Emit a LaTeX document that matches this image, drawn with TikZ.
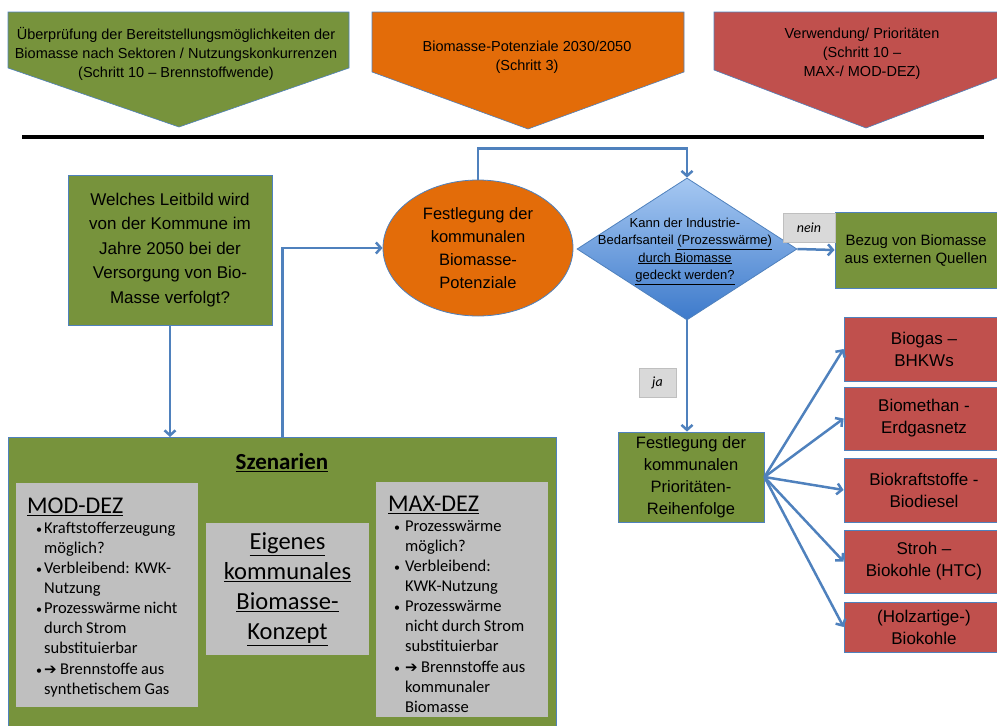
\documentclass[tikz,border=0pt]{standalone}
\usepackage{fontspec}
\setmainfont{Liberation Sans}
\newfontfamily\calfont{Carlito}
\newfontfamily\symfont{DejaVu Sans}
\usetikzlibrary{shapes.geometric,arrows.meta}

\definecolor{leafgreen}{HTML}{77933C}
\definecolor{flameorange}{HTML}{E36C09}
\definecolor{brickred}{HTML}{C0504D}
\definecolor{lineblue}{HTML}{4F81BD}
\definecolor{panelgray}{HTML}{BFBFBF}
\definecolor{taggray}{HTML}{D9D9D9}
\definecolor{diatop}{HTML}{A6C8F2}
\definecolor{diabottom}{HTML}{3D7ACB}

% bullet with its lines stacked beside it
\newcommand{\bitem}[2][9pt]{\par\noindent
  \makebox[17pt][l]{\hspace{#1}{\fontsize{12}{12}\selectfont\textbullet}}%
  \begin{tabular}[t]{@{}l@{}}#2\end{tabular}}
\newcommand{\listtext}{\calfont\fontsize{16.5}{20}\selectfont\setlength{\lineskip}{0pt}}
\newcommand{\thenarrow}{{\symfont\fontsize{15}{20}\selectfont ➔}}

\tikzset{
  box/.style={draw=lineblue, line width=0.8pt, align=center, inner sep=0pt},
  greenbox/.style={box, fill=leafgreen},
  redbox/.style={box, fill=brickred, minimum width=160pt,
    font=\fontsize{17}{22}\selectfont},
  graybox/.style={fill=panelgray, inner sep=0pt},
  listnode/.style={anchor=north west, inner sep=0pt, align=left},
  conn/.style={draw=lineblue, line width=2.5pt,
    -{Straight Barb[length=5pt,width=11pt]}},
  tag/.style={fill=taggray, draw=panelgray, line width=0.5pt,
    minimum height=29pt, inner sep=0pt,
    font=\calfont\itshape\fontsize{14}{16}\selectfont},
  toptext/.style={align=center, inner sep=0pt,
    font=\fontsize{14.5}{19}\selectfont},
}

\begin{document}
\begin{tikzpicture}[x=1pt,y=-1pt]
  \useasboundingbox (0,0) rectangle (997,726);
  \clip (0,0) rectangle (997,726);

  % header arrows
  \draw[lineblue, line width=0.6pt, fill=leafgreen]
    (8,12) -- (349,12) -- (349,68) -- (179,127) -- (8,68) -- cycle;
  \node[toptext] (hdgreen) at (176,54)
    {Überprüfung der Bereitstellungsmöglichkeiten der\\
     Biomasse nach Sektoren / Nutzungskonkurrenzen\\
     (Schritt 10 – Brennstoffwende)};
  \draw[lineblue, line width=0.6pt, fill=flameorange]
    (372,12) -- (684,12) -- (684,72) -- (528,129) -- (372,72) -- cycle;
  \node[toptext] (hdorange) at (527,57)
    {Biomasse-Potenziale 2030/2050\\(Schritt 3)};
  \draw[lineblue, line width=0.6pt, fill=brickred]
    (714,12) -- (1018,12) -- (1018,70) -- (866,128) -- (714,70) -- cycle;
  \node[toptext] (hdred) at (862,54)
    {Verwendung/ Prioritäten\\(Schritt 10 –\\MAX-/ MOD-DEZ)};

  \draw[line width=3.5pt] (22,137) -- (984,137);

  % flow
  \node[greenbox, minimum width=204pt, minimum height=150pt,
    font=\fontsize{17}{24.5}\selectfont] (leit) at (170,250)
    {Welches Leitbild wird\\von der Kommune im\\Jahre 2050 bei der\\
     Versorgung von Bio-\\Masse verfolgt?};
  \node[ellipse, draw=lineblue, line width=0.8pt, fill=flameorange,
    minimum width=190pt, minimum height=136pt, inner sep=0pt, align=center,
    font=\fontsize{16.5}{23}\selectfont] (ell) at (478,248)
    {Festlegung der\\kommunalen\\Biomasse-\\Potenziale};
  \node[diamond, draw=lineblue, line width=0.8pt,
    top color=diatop, bottom color=diabottom,
    minimum width=220pt, minimum height=142pt, inner sep=0pt] (dia) at (687,249) {};
  \node[align=center, inner sep=0pt, font=\fontsize{13}{17.5}\selectfont]
    (diatxt) at (685,251)
    {Kann der Industrie-\\Bedarfsanteil \underline{(Prozesswärme)}\\
     \underline{durch Biomasse}\\\underline{gedeckt werden?}};
  \node[greenbox, minimum width=162pt, minimum height=76pt,
    font=\fontsize{15}{18}\selectfont] (ext) at (916,250)
    {Bezug von Biomasse\\aus externen Quellen};
  \node[tag, minimum width=52pt] (nein) at (809,227.5) {nein};
  \node[tag, minimum width=37pt] (ja) at (657.5,382.5) {ja};
  \node[greenbox, minimum width=146pt, minimum height=90pt,
    font=\fontsize{16.5}{22}\selectfont] (prio) at (691,477)
    {Festlegung der\\kommunalen\\Prioritäten-\\Reihenfolge};

  \node[redbox, minimum height=64pt] (r1) at (924,349) {Biogas –\\BHKWs};
  \node[redbox, minimum height=63pt] (r2) at (924,418.5) {Biomethan -\\Erdgasnetz};
  \node[redbox, minimum height=64pt] (r3) at (924,490) {Biokraftstoffe -\\Biodiesel};
  \node[redbox, minimum height=63pt] (r4) at (924,561.5) {Stroh –\\Biokohle (HTC)};
  \node[redbox, minimum height=50pt] (r5) at (924,627) {(Holzartige-)\\Biokohle};

  % scenarios
  \node[greenbox, anchor=north west, minimum width=548pt, minimum height=300pt]
    (scen) at (8,437) {};
  \node[font=\calfont\bfseries\fontsize{23}{26}\selectfont, inner sep=0pt]
    (scentitle) at (282,463) {\underline{Szenarien}};
  \node[graybox, minimum width=182pt, minimum height=224pt] (mod) at (107,595) {};
  \node[listnode, text width=160pt] (modtxt) at (27,498)
    {\listtext
     {\fontsize{24}{26}\selectfont\underline{MOD-DEZ}}
     \bitem{Kraftstofferzeugung\\möglich?}
     \bitem{Verbleibend: KWK-\\Nutzung}
     \bitem{Prozesswärme nicht\\durch Strom\\substituierbar}
     \bitem{\thenarrow{} Brennstoffe aus\\synthetischem Gas}};
  \node[graybox, minimum width=163pt, minimum height=132pt, align=center,
    font=\calfont\fontsize{24.5}{30}\selectfont] (eig) at (287.5,589)
    {\underline{Eigenes}\\\underline{kommunales}\\\underline{Biomasse-}\\\underline{Konzept}};
  \node[graybox, minimum width=172pt, minimum height=235pt] (maxd) at (462,599.5) {};
  \node[listnode, text width=148pt] (maxtxt) at (388,496)
    {\listtext
     {\fontsize{24}{26}\selectfont\underline{MAX-DEZ}}
     \bitem[6pt]{Prozesswärme\\möglich?}
     \bitem[6pt]{Verbleibend:\\KWK-Nutzung}
     \bitem[6pt]{Prozesswärme\\nicht durch Strom\\substituierbar}
     \bitem[6pt]{\thenarrow{} Brennstoffe aus\\kommunaler\\Biomasse}};

  \begin{scope}[conn]
    \draw (leit) -- (leit |- scen.north);
    \draw (scen.north) |- (ell.west);
    \draw (ell.north) -- ++(0,-31) -| (dia.north);
    \draw (dia.east) -- (ext.west);
    \draw (dia.south) -- (dia.south |- prio.north);
    \draw (prio.east) -- (r1.west);
    \draw (prio.east) -- (r2.west);
    \draw (prio.east) -- (r3.west);
    \draw (prio.east) -- (r4.west);
    \draw (prio.east) -- (r5.west);
  \end{scope}
\end{tikzpicture}
\end{document}
